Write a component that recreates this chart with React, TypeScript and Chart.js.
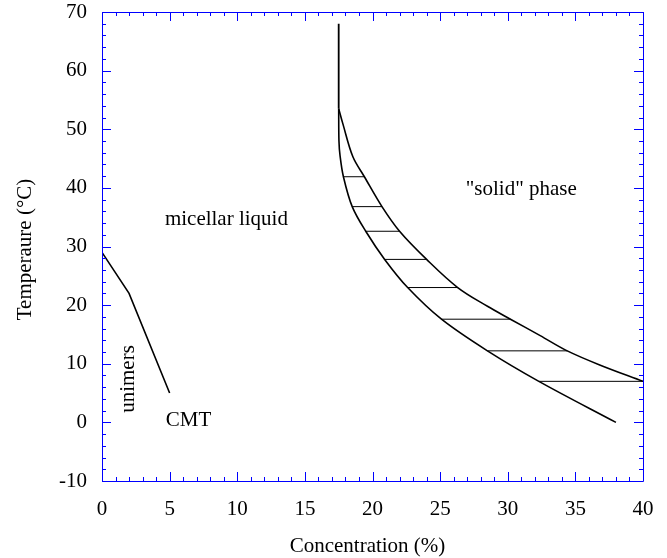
import { useEffect, useRef } from "react";
import { Chart, registerables } from "chart.js";

Chart.register(...registerables);

const FONT = '"Liberation Serif", "Times New Roman", Times, serif';
const FRAME_COLOR = "#0000ff";
const FONT_SIZE = 21;

// Axis ranges and tick spacing
const xMin = 0;
const xMax = 40;
const xMajorStep = 5;
const xMinorStep = 1;
const yMin = -10;
const yMax = 70;
const yMajorStep = 10;
const yMinorStep = 2;

// Critical micelle temperature line (CMT)
const cmtConc = [0, 2, 5];
const cmtTemp = [29, 22, 5];

// Vertical boundary at the top of the two-phase region
const verticalConc = [17.5, 17.5];
const verticalTemp = [68, 53.5];

// Boundary of the "solid" phase (outer curve)
const solidConc = [17.5, 17.8, 18.55, 19.4, 20.7, 22.0, 24.0, 26.3, 28.5, 30.2, 32.4, 34.4, 36.8, 40.0];
const solidTemp = [53.5, 51, 45.3, 41.9, 36.8, 32.6, 27.8, 23.0, 19.8, 17.6, 14.8, 12.2, 9.8, 7.0];

// Boundary of the micellar liquid (inner curve)
const liquidConc = [17.5, 17.52, 17.6, 17.85, 18.5, 19.5, 20.9, 22.6, 25.1, 28.5, 32.3, 38.0];
const liquidTemp = [53.5, 48, 45.5, 41.9, 36.8, 32.6, 27.8, 23.0, 17.6, 12.2, 7.0, 0];

// Tie lines across the coexistence region
const tieTemp = [41.9, 36.8, 32.6, 27.8, 23.0, 17.6, 12.2, 7.0];
const tieLow = [17.85, 18.5, 19.5, 20.9, 22.6, 25.1, 28.5, 32.3];
const tieHigh = [19.4, 20.7, 22.0, 24.0, 26.3, 30.2, 34.4, 40.0];

// Region labels
const labelTexts = ["micellar liquid", "\"solid\" phase", "CMT", "unimers"];
const labelConc = [4.65, 31.0, 6.4, 1.93];
const labelTemp = [34.6, 39.8, 0.4, 7.4];
const labelRotated = [false, false, false, true];
const labelAlign: CanvasTextAlign[] = ["left", "center", "center", "center"];

const xTitle = "Concentration (%)";
const yTitle = "Temperaure (°C)";

const toPoints = (xs: number[], ys: number[]) => xs.map((x, i) => ({ x, y: ys[i] }));

const curve = (data: { x: number; y: number }[], width: number, tension: number) => ({
  data,
  borderColor: "#000000",
  borderWidth: width,
  pointRadius: 0,
  fill: false,
  tension,
  showLine: true,
});

const framePlugin = {
  id: "frameAndText",
  afterDatasetsDraw(chart: any) {
    const { ctx, chartArea, scales } = chart;
    const xs = scales.x;
    const ys = scales.y;
    const { left, right, top, bottom } = chartArea;
    ctx.save();
    ctx.strokeStyle = FRAME_COLOR;
    ctx.lineWidth = 1;
    ctx.beginPath();
    ctx.rect(Math.round(left) + 0.5, Math.round(top) + 0.5, Math.round(right - left), Math.round(bottom - top));
    ctx.stroke();

    ctx.beginPath();
    for (let v = xMin; v <= xMax + 1e-9; v += xMinorStep) {
      const major = Math.abs(v / xMajorStep - Math.round(v / xMajorStep)) < 1e-9;
      const len = major ? 9 : 4;
      const px = Math.round(xs.getPixelForValue(v)) + 0.5;
      ctx.moveTo(px, bottom);
      ctx.lineTo(px, bottom - len);
      ctx.moveTo(px, top);
      ctx.lineTo(px, top + len);
    }
    for (let v = yMin; v <= yMax + 1e-9; v += yMinorStep) {
      const major = Math.abs(v / yMajorStep - Math.round(v / yMajorStep)) < 1e-9;
      const len = major ? 9 : 4;
      const py = Math.round(ys.getPixelForValue(v)) + 0.5;
      ctx.moveTo(left, py);
      ctx.lineTo(left + len, py);
      ctx.moveTo(right, py);
      ctx.lineTo(right - len, py);
    }
    ctx.stroke();

    ctx.fillStyle = "#000000";
    ctx.font = `${FONT_SIZE}px ${FONT}`;
    ctx.textBaseline = "middle";
    labelTexts.forEach((t, i) => {
      const px = xs.getPixelForValue(labelConc[i]);
      const py = ys.getPixelForValue(labelTemp[i]);
      ctx.save();
      ctx.translate(px, py);
      if (labelRotated[i]) ctx.rotate(-Math.PI / 2);
      ctx.textAlign = labelAlign[i];
      ctx.fillText(t, 0, 0);
      ctx.restore();
    });

    // Axis titles
    ctx.textAlign = "center";
    ctx.fillText(xTitle, (left + right) / 2 - 5, 546);
    ctx.save();
    ctx.translate(25, (top + bottom) / 2 + 3);
    ctx.rotate(-Math.PI / 2);
    ctx.fillText(yTitle, 0, 0);
    ctx.restore();
    ctx.restore();
  },
};

export default function App() {
  const canvasRef = useRef<HTMLCanvasElement | null>(null);

  useEffect(() => {
    const canvas = canvasRef.current;
    if (!canvas) return;

    const datasets: any[] = [
      curve(toPoints(cmtConc, cmtTemp), 1.6, 0),
      curve(toPoints(verticalConc, verticalTemp), 1.8, 0),
      curve(toPoints(solidConc, solidTemp), 1.6, 0.35),
      curve(toPoints(liquidConc, liquidTemp), 1.6, 0.35),
      ...tieTemp.map((t, i) => curve([{ x: tieLow[i], y: t }, { x: tieHigh[i], y: t }], 1, 0)),
    ];

    const chart = new Chart(canvas, {
      type: "scatter",
      data: { datasets },
      options: {
        animation: false,
        responsive: false,
        events: [],
        layout: { padding: { top: 12, right: 24, left: 0, bottom: 0 } },
        plugins: { legend: { display: false }, tooltip: { enabled: false } },
        scales: {
          x: {
            type: "linear",
            min: xMin,
            max: xMax,
            grid: { display: false, drawTicks: false },
            border: { display: false },
            ticks: {
              stepSize: xMajorStep,
              color: "#000000",
              font: { family: FONT, size: FONT_SIZE },
              padding: 16,
              maxRotation: 0,
            },
            afterFit: (scale: any) => {
              scale.height = 77;
              scale.paddingLeft = 0;
              scale.paddingRight = 0;
            },
          },
          y: {
            type: "linear",
            min: yMin,
            max: yMax,
            grid: { display: false, drawTicks: false },
            border: { display: false },
            ticks: {
              stepSize: yMajorStep,
              color: "#000000",
              font: { family: FONT, size: FONT_SIZE },
              padding: 15,
            },
            afterFit: (scale: any) => {
              scale.width = 102;
              scale.paddingTop = 0;
              scale.paddingBottom = 0;
            },
          },
        },
      },
      plugins: [framePlugin],
    });

    return () => chart.destroy();
  }, []);

  return (
    <div style={{ position: "fixed", left: 0, top: 0, width: 667, height: 558, background: "#ffffff" }}>
      <canvas ref={canvasRef} width={667} height={558} style={{ width: 667, height: 558 }} />
    </div>
  );
}
